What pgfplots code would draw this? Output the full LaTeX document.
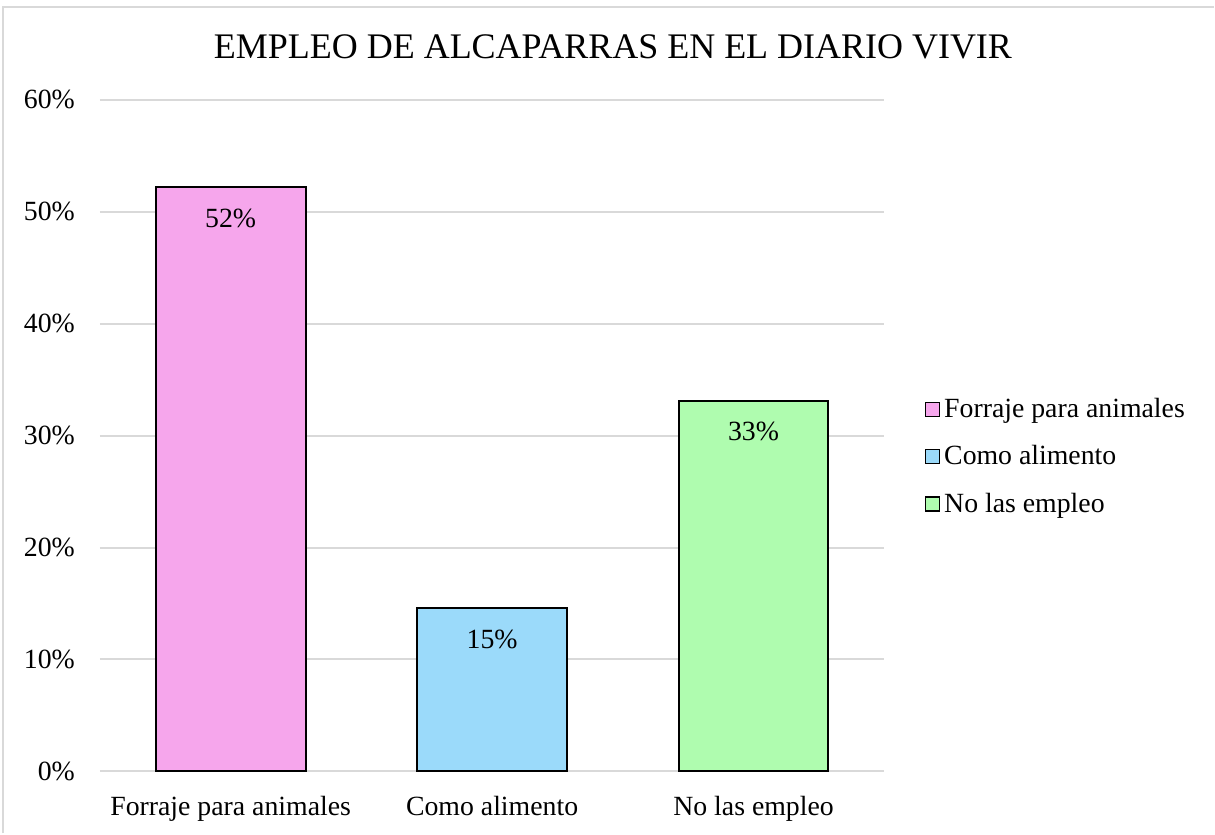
\documentclass[border=0pt]{standalone}
\usepackage{pgfplots}
\pgfplotsset{compat=1.18}
\usepackage{fontspec}
\setmainfont{Liberation Serif}
\definecolor{cPink}{RGB}{246,166,236}
\definecolor{cBlue}{RGB}{155,218,250}
\definecolor{cGreen}{RGB}{175,252,175}
\definecolor{cGrid}{RGB}{217,217,217}
\newcommand{\lbl}{\rmfamily\fontsize{13.9}{16}\selectfont}
\begin{document}
\begin{tikzpicture}[x=1pt,y=1pt]
\path (0,0) rectangle (607.5,417);
\draw[cGrid, line width=1pt] (1.5,0) -- (1.5,413.5) -- (607.5,413.5);
\node[font=\fontsize{18}{21}\selectfont] at (306.75,393.5) {EMPLEO DE ALCAPARRAS EN EL DIARIO VIVIR};
\begin{axis}[
  at={(50pt,31pt)}, anchor=south west,
  scale only axis, width=392.5pt, height=336pt,
  ybar, bar width=75pt, bar shift=0pt,
  xmin=-0.5, xmax=2.5, ymin=0, ymax=60,
  xtick={0,1,2},
  xticklabels={Forraje para animales,Como alimento,No las empleo},
  ytick={0,10,...,60},
  yticklabel={\pgfmathprintnumber{\tick}\%},
  /pgf/number format/assume math mode=true,
  ticklabel style={font=\lbl},
  yticklabel style={xshift=-9pt},
  xticklabel style={yshift=-9pt},
  major tick length=0pt,
  axis line style={draw=none},
  ymajorgrids, grid style={cGrid, line width=1pt},
  nodes near coords={\pgfmathprintnumber[fixed,precision=0]{\pgfplotspointmeta}\%},
  nodes near coords style={font=\lbl, anchor=center, yshift=-15.5pt},
  legend style={at={(1,0.5)}, anchor=west, xshift=17pt, yshift=-10.5pt,
    draw=none, fill=none, font=\lbl, row sep=8.5pt},
  legend cell align=left,
  legend image code/.code={\draw[#1,draw=black,line width=0.8pt] (0pt,-3.5pt) rectangle (7pt,3.5pt);},
]
\addplot[fill=cPink, draw=black, line width=1pt] coordinates {(0,52.2)};
\addplot[fill=cBlue, draw=black, line width=1pt] coordinates {(1,14.6)};
\addplot[fill=cGreen, draw=black, line width=1pt] coordinates {(2,33.1)};
\legend{Forraje para animales,Como alimento,No las empleo}
\end{axis}
\end{tikzpicture}
\end{document}
